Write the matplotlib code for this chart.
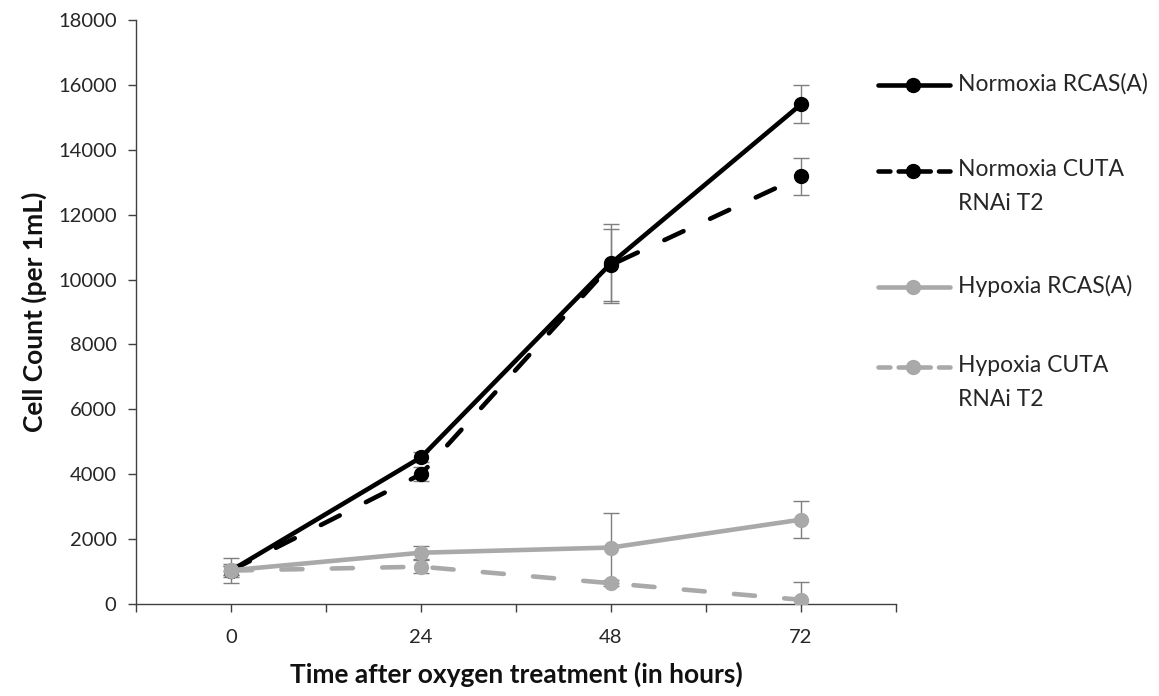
import matplotlib
matplotlib.use("Agg")
import matplotlib.pyplot as plt
from matplotlib.lines import Line2D

# ---- data ----
hours = [0, 24, 48, 72]
norm_rcas = [1030, 4520, 10500, 15400]
norm_rcas_err = [150, 150, 1210, 590]
norm_cuta = [1030, 4000, 10450, 13180]
norm_cuta_err = [150, 220, 1100, 575]
hyp_rcas = [1040, 1580, 1740, 2600]
hyp_rcas_err = [200, 200, 1080, 570]
hyp_cuta = [1030, 1150, 640, 130]
hyp_cuta_err = [385, 200, 100, 560]

series_names = ["Normoxia RCAS(A)", "Normoxia CUTA\nRNAi T2",
                "Hypoxia RCAS(A)", "Hypoxia CUTA\nRNAi T2"]
y_ticks = list(range(0, 18001, 2000))
x_tick_labels = ["0", "24", "48", "72"]

plt.rcParams['font.family'] = ['Lato', 'DejaVu Sans']

W, H = 1159, 696
fig = plt.figure(figsize=(W / 100, H / 100), dpi=100)
ax = fig.add_axes([136 / W, 1 - 604 / H, (896 - 136) / W, (604 - 20) / H])

BLACK = "#000000"
GREY = "#A9A9A9"
ERR = "#7F7F7F"
TXT = "#262626"
lw = 3.3
ms = 10
dash = (4.6, 6.4)

styles = [
    (norm_rcas, norm_rcas_err, BLACK, "-"),
    (norm_cuta, norm_cuta_err, BLACK, "--"),
    (hyp_rcas, hyp_rcas_err, GREY, "-"),
    (hyp_cuta, hyp_cuta_err, GREY, "--"),
]

for i, (vals, errs, col, ls) in enumerate(styles):
    ax.errorbar(hours, vals, yerr=errs, fmt="none", ecolor=ERR, elinewidth=1.0,
                capsize=5.5, capthick=1.0, zorder=2 + i * 0.1)
    ln, = ax.plot(hours, vals, color=col, lw=lw, marker="o", ms=ms,
                  solid_capstyle="round", dash_capstyle="round", zorder=3 + i)
    if ls == "--":
        ln.set_dashes(dash)

ax.set_xlim(-12, 84)
ax.set_ylim(0, 18000)
ax.set_xticks(list(range(-12, 85, 12)))
ax.set_xticklabels(["" if t not in hours else x_tick_labels[hours.index(t)]
                    for t in range(-12, 85, 12)])
ax.set_yticks(y_ticks)
ax.set_yticklabels([str(v) for v in y_ticks])
for s in ["top", "right"]:
    ax.spines[s].set_visible(False)
for s in ["left", "bottom"]:
    ax.spines[s].set_color("#404040")
    ax.spines[s].set_linewidth(1.0)
ax.tick_params(axis="both", direction="out", length=6, width=1, color="#404040",
               labelsize=14.5, labelcolor=TXT, pad=8)
ax.tick_params(axis="x", pad=12)
ax.set_xlabel("Time after oxygen treatment (in hours)", fontsize=19,
              fontweight="bold", labelpad=11, color="#111111")
ax.set_ylabel("Cell Count (per 1mL)", fontsize=19, fontweight="bold",
              labelpad=8, color="#111111")

# ---- legend (drawn manually to mimic layout) ----
leg_rows = [85, 171, 287, 367]
for (vals, errs, col, ls), name, yp in zip(styles, series_names, leg_rows):
    yf = 1 - yp / H
    l = Line2D([878 / W, 950 / W], [yf, yf], transform=fig.transFigure, color=col,
               lw=lw, solid_capstyle="round", dash_capstyle="round")
    if ls == "--":
        l.set_dashes((2.6, 1.8))
    fig.add_artist(l)
    m = Line2D([913 / W], [yf], transform=fig.transFigure, color=col, marker="o",
               ms=ms, lw=0)
    fig.add_artist(m)
    fig.text(958 / W, yf + 12 / H, name, fontsize=16.5, color=TXT, va="top",
             ha="left", linespacing=1.78, transform=fig.transFigure)

fig.savefig("out.png", dpi=100)
